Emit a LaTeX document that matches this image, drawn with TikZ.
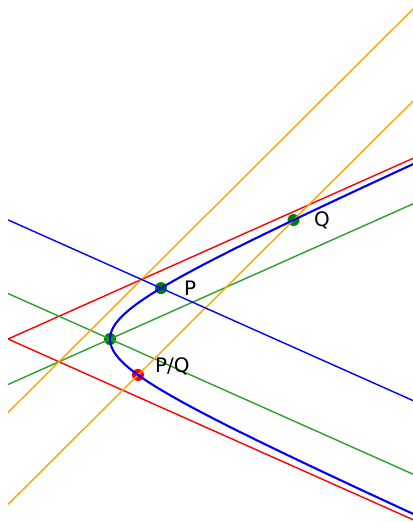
\documentclass[tikz,border=0pt]{standalone}
\usepackage{fontspec}
\setmainfont{DejaVu Sans}
\usepackage{tikz}
\usetikzlibrary{positioning}
\definecolor{curveblue}{RGB}{0,0,255}
\definecolor{asymred}{RGB}{255,0,0}
\definecolor{chordorange}{RGB}{255,165,0}
\definecolor{lineareen}{RGB}{44,160,44}
\definecolor{dotgreen}{RGB}{0,128,0}
\tikzset{
  plain-line/.style={line width=1.2pt},
  curve-line/.style={line width=1.8pt, draw=curveblue},
  point-dot/.style={circle, fill=dotgreen, minimum size=0.36cm, inner sep=0pt},
  point-label/.style={font=\fontsize{17}{20}\selectfont, inner sep=0pt}
}
\begin{document}
\begin{tikzpicture}[x=1.53cm, y=1.365cm]
\useasboundingbox (-0.157,-4.022) rectangle (7.941,7.451);
\clip (0,-4.022) rectangle (7.941,7.451);
% points on the hyperbola
\node[point-dot] (V) at (2,0) {};
\node[point-dot] (P) at (3,1.118) {};
\node[point-dot] (Q) at (5.599,2.615) {};
\node[point-dot, fill=asymred] (R) at (2.549,-0.79) {};
% asymptotes
\draw[plain-line, draw=asymred] (0,0) -- (8,4);
\draw[plain-line, draw=asymred] (0,0) -- (8,-4);
% parallels through the vertex
\draw[plain-line, draw=lineareen] (0,1) -- (8,-3);
\draw[plain-line, draw=lineareen] (0,-1) -- (8,3);
% chords
\draw[plain-line, draw=chordorange] (0,-3.636) -- (8,5.295);
\draw[plain-line, draw=chordorange] (0,-1.614) -- (8,7.317);
% line through P
\draw[plain-line, draw=curveblue] (0,2.618) -- (8,-1.382);
% hyperbola
\draw[curve-line, domain=-2.1:2.1, samples=120, variable=\t, smooth]
  plot ({2*cosh(\t)},{sinh(\t)});
\node[point-label, right=0.5cm of P] (lblP) {P};
\node[point-label, right=0.42cm of Q] (lblQ) {Q};
\node[point-label, right=0.32cm of R, yshift=0.27cm] (lblR) {P/Q};
\end{tikzpicture}
\end{document}
